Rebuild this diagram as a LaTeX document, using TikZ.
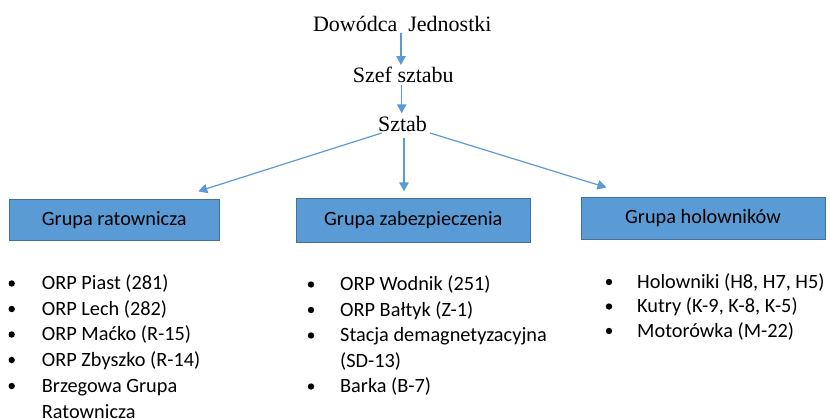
\documentclass[tikz,border=0pt]{standalone}
\usepackage{fontspec}
\setmainfont{Liberation Serif}
\newfontfamily\calibrifont{Carlito}
\usetikzlibrary{arrows.meta}
\definecolor{boxblue}{HTML}{5B9BD5}
\definecolor{boxedge}{HTML}{41719C}
\definecolor{arrblue}{HTML}{5B9BD5}
\begin{document}
\begin{tikzpicture}[x=1pt,y=-1pt,
 title/.style={font=\fontsize{22}{26}\selectfont, inner sep=0pt, anchor=base},
 grp/.style={draw=boxedge, fill=boxblue, line width=0.9pt, inner sep=0pt, font=\calibrifont\fontsize{20.3}{24}\selectfont, text=black},
 item/.style={font=\calibrifont\fontsize{20.3}{24}\selectfont, inner sep=0pt, anchor=base west},
 dot/.style={circle, fill=black, inner sep=0pt, minimum size=6.4pt},
 arr/.style={draw=arrblue, line width=1.2pt, -{Triangle[length=9pt,width=9.5pt]}}
]
\useasboundingbox (0,0) rectangle (830,418);

% titles
\node[title] (dow) at (402.3,31.5) {Dowódca\ \ Jednostki};
\node[title] (szef) at (403.3,82) {Szef sztabu};
\node[title] (sztab) at (402.5,131.7) {Sztab};

% group boxes
\node[grp, minimum width=210pt, minimum height=40.7pt] (ga) at (114.3,219.7) {Grupa ratownicza};
\node[grp, minimum width=234.5pt, minimum height=43.5pt] (gb) at (413.3,220.3) {Grupa zabezpieczenia};
\node[grp, minimum width=244pt, minimum height=42.5pt] (gc) at (703,218.2) {Grupa holowników};

% arrows
\draw[arr] ([xshift=-1.3pt,yshift=-1.5pt]dow.base) -- ([xshift=-2.3pt,yshift=17pt]szef.base);
\draw[arr] ([xshift=-1.6pt,yshift=-3pt]szef.base) -- ([xshift=-0.8pt,yshift=18.4pt]sztab.base);
\draw[arr] ([xshift=1.5pt,yshift=-6.3pt]sztab.base) -- ([xshift=-9.3pt,yshift=6.8pt]gb.north);
\draw[arr] ([xshift=-20.8pt,yshift=-1.3pt]sztab.base) -- ([xshift=84pt,yshift=7.6pt]ga.north);
\draw[arr] ([xshift=27.5pt,yshift=-1.3pt]sztab.base) -- ([xshift=-96.5pt,yshift=9pt]gc.north);

% left list
\node[dot] (ad1) at (11.7,283.5) {};
\node[item] (a1) at (41.7,289.5) {ORP Piast (281)};
\node[dot] (ad2) at (11.7,309) {};
\node[item] (a2) at (41.7,315) {ORP Lech (282)};
\node[dot] (ad3) at (11.7,334.5) {};
\node[item] (a3) at (41.7,340.5) {ORP Maćko (R-15)};
\node[dot] (ad4) at (11.7,360) {};
\node[item] (a4) at (41.7,366) {ORP Zbyszko (R-14)};
\node[dot] (ad5) at (11.7,386) {};
\node[item] (a5) at (41.7,392) {Brzegowa Grupa};
\node[item] (a6) at (41.7,418) {Ratownicza};

% middle list
\node[dot] (bd1) at (311,284.5) {};
\node[item] (b1) at (340,290.5) {ORP Wodnik (251)};
\node[dot] (bd2) at (311,310) {};
\node[item] (b2) at (340,316) {ORP Bałtyk (Z-1)};
\node[dot] (bd3) at (311,335.5) {};
\node[item] (b3) at (340,341.5) {Stacja demagnetyzacyjna};
\node[item] (b4) at (340,367) {(SD-13)};
\node[dot] (bd5) at (311,386.5) {};
\node[item] (b5) at (340,392.5) {Barka (B-7)};

% right list
\node[dot] (cd1) at (609,282) {};
\node[item] (c1) at (637,288) {Holowniki (H8, H7, H5)};
\node[dot] (cd2) at (609,306.5) {};
\node[item] (c2) at (637,312.5) {Kutry (K-9, K-8, K-5)};
\node[dot] (cd3) at (609,331) {};
\node[item] (c3) at (637,337) {Motorówka (M-22)};
\end{tikzpicture}
\end{document}
